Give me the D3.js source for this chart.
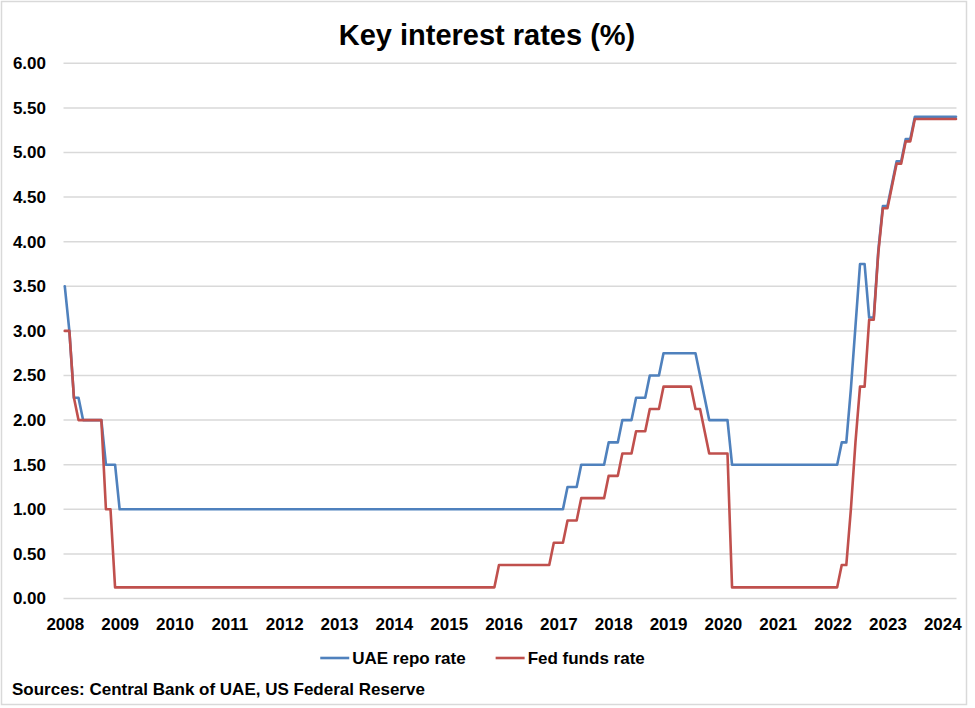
<!DOCTYPE html>
<html>
<head>
<meta charset="utf-8">
<script src="https://cdn.jsdelivr.net/npm/d3@7"></script>
<style>
  body { margin: 0; background: #fff; }
  svg { display: block; }
  text { font-family: 'Liberation Sans', Arial, sans-serif; font-weight: bold; fill: #000; }
</style>
</head>
<body>
<svg id="chart" width="975" height="708"></svg>
<script>
// ---------- DATA ----------
const titleText = "Key interest rates (%)";
const sourceText = "Sources: Central Bank of UAE, US Federal Reserve";
const firstYear = 2008;                 // series start: January 2008, monthly
const yearLabels = ["2008","2009","2010","2011","2012","2013","2014","2015","2016","2017","2018","2019","2020","2021","2022","2023","2024"];
const yTickValues = [0, 0.5, 1, 1.5, 2, 2.5, 3, 3.5, 4, 4.5, 5, 5.5, 6];
const seriesNames = ["UAE repo rate", "Fed funds rate"];
const seriesColors = ["#4F81BD", "#C0504D"];

// UAE repo rate, monthly Jan 2008 – Apr 2024
const uaeRepo = [
  3.50,3.00,2.25,2.25,2.00,2.00,2.00,2.00,2.00,1.50,1.50,1.50, // 2008
  1.00,1.00,1.00,1.00,1.00,1.00,1.00,1.00,1.00,1.00,1.00,1.00, // 2009
  1.00,1.00,1.00,1.00,1.00,1.00,1.00,1.00,1.00,1.00,1.00,1.00, // 2010
  1.00,1.00,1.00,1.00,1.00,1.00,1.00,1.00,1.00,1.00,1.00,1.00, // 2011
  1.00,1.00,1.00,1.00,1.00,1.00,1.00,1.00,1.00,1.00,1.00,1.00, // 2012
  1.00,1.00,1.00,1.00,1.00,1.00,1.00,1.00,1.00,1.00,1.00,1.00, // 2013
  1.00,1.00,1.00,1.00,1.00,1.00,1.00,1.00,1.00,1.00,1.00,1.00, // 2014
  1.00,1.00,1.00,1.00,1.00,1.00,1.00,1.00,1.00,1.00,1.00,1.00, // 2015
  1.00,1.00,1.00,1.00,1.00,1.00,1.00,1.00,1.00,1.00,1.00,1.00, // 2016
  1.00,1.00,1.25,1.25,1.25,1.50,1.50,1.50,1.50,1.50,1.50,1.75, // 2017
  1.75,1.75,2.00,2.00,2.00,2.25,2.25,2.25,2.50,2.50,2.50,2.75, // 2018
  2.75,2.75,2.75,2.75,2.75,2.75,2.75,2.50,2.25,2.00,2.00,2.00, // 2019
  2.00,2.00,1.50,1.50,1.50,1.50,1.50,1.50,1.50,1.50,1.50,1.50, // 2020
  1.50,1.50,1.50,1.50,1.50,1.50,1.50,1.50,1.50,1.50,1.50,1.50, // 2021
  1.50,1.50,1.75,1.75,2.35,3.05,3.75,3.75,3.15,3.15,3.90,4.40, // 2022
  4.40,4.65,4.90,4.90,5.15,5.15,5.40,5.40,5.40,5.40,5.40,5.40, // 2023
  5.40,5.40,5.40,5.40                                          // 2024
];

// Fed funds rate (target midpoint), monthly Jan 2008 – Apr 2024
const fedFunds = [
  3.000,3.000,2.250,2.000,2.000,2.000,2.000,2.000,2.000,1.000,1.000,0.125, // 2008
  0.125,0.125,0.125,0.125,0.125,0.125,0.125,0.125,0.125,0.125,0.125,0.125, // 2009
  0.125,0.125,0.125,0.125,0.125,0.125,0.125,0.125,0.125,0.125,0.125,0.125, // 2010
  0.125,0.125,0.125,0.125,0.125,0.125,0.125,0.125,0.125,0.125,0.125,0.125, // 2011
  0.125,0.125,0.125,0.125,0.125,0.125,0.125,0.125,0.125,0.125,0.125,0.125, // 2012
  0.125,0.125,0.125,0.125,0.125,0.125,0.125,0.125,0.125,0.125,0.125,0.125, // 2013
  0.125,0.125,0.125,0.125,0.125,0.125,0.125,0.125,0.125,0.125,0.125,0.125, // 2014
  0.125,0.125,0.125,0.125,0.125,0.125,0.125,0.125,0.125,0.125,0.125,0.375, // 2015
  0.375,0.375,0.375,0.375,0.375,0.375,0.375,0.375,0.375,0.375,0.375,0.625, // 2016
  0.625,0.625,0.875,0.875,0.875,1.125,1.125,1.125,1.125,1.125,1.125,1.375, // 2017
  1.375,1.375,1.625,1.625,1.625,1.875,1.875,1.875,2.125,2.125,2.125,2.375, // 2018
  2.375,2.375,2.375,2.375,2.375,2.375,2.125,2.125,1.875,1.625,1.625,1.625, // 2019
  1.625,1.625,0.125,0.125,0.125,0.125,0.125,0.125,0.125,0.125,0.125,0.125, // 2020
  0.125,0.125,0.125,0.125,0.125,0.125,0.125,0.125,0.125,0.125,0.125,0.125, // 2021
  0.125,0.125,0.375,0.375,1.000,1.750,2.375,2.375,3.125,3.125,3.875,4.375, // 2022
  4.375,4.625,4.875,4.875,5.125,5.125,5.375,5.375,5.375,5.375,5.375,5.375, // 2023
  5.375,5.375,5.375,5.375                                                  // 2024
];

// ---------- CHART ----------
const svg = d3.select("#chart");
const plot = { left: 63.5, right: 956.5, top: 63.3, bottom: 598.5 };
const dataLeft = 64.8, dataRight = 956;

svg.append("rect")
  .attr("x", 1.5).attr("y", 1.5).attr("width", 965).attr("height", 703)
  .attr("fill", "#fff").attr("stroke", "#d9d9d9").attr("stroke-width", 1.5);

const x = d3.scaleLinear().domain([0, uaeRepo.length - 1]).range([dataLeft, dataRight]);
const y = d3.scaleLinear().domain([0, 6]).range([plot.bottom, plot.top]);

// gridlines
svg.append("g").selectAll("line").data(yTickValues).join("line")
  .attr("x1", plot.left).attr("x2", plot.right)
  .attr("y1", d => y(d)).attr("y2", d => y(d))
  .attr("stroke", "#d9d9d9").attr("stroke-width", 1.5);

// y axis labels
const yAxis = d3.axisLeft(y).tickValues(yTickValues).tickFormat(d3.format(".2f")).tickSize(0).tickPadding(0);
const gy = svg.append("g").attr("transform", "translate(46,0)").call(yAxis);
gy.select(".domain").remove();
gy.selectAll("text").attr("font-size", 17).attr("font-family", null).attr("fill", "#000")
  .style("font-family", "'Liberation Sans', Arial, sans-serif").style("font-weight", "bold");

// x axis labels (one per January)
const xTickIdx = yearLabels.map((_, i) => i * 12);
const xAxis = d3.axisBottom(x).tickValues(xTickIdx).tickFormat((d, i) => yearLabels[i]).tickSize(0).tickPadding(0);
const gx = svg.append("g").attr("transform", "translate(0,617)").call(xAxis);
gx.select(".domain").remove();
gx.selectAll("text").attr("font-size", 17).attr("font-family", null).attr("fill", "#000").attr("dy", "0.75em")
  .style("font-family", "'Liberation Sans', Arial, sans-serif").style("font-weight", "bold");

// lines
const line = d3.line().x((d, i) => x(i)).y(d => y(d)).curve(d3.curveLinear);
const series = [uaeRepo, fedFunds];
svg.append("g").selectAll("path").data(series).join("path")
  .attr("d", d => line(d))
  .attr("fill", "none")
  .attr("stroke", (d, i) => seriesColors[i])
  .attr("stroke-width", 2.6)
  .attr("stroke-linejoin", "round")
  .attr("stroke-linecap", "round");

// title
svg.append("text").attr("x", 487).attr("y", 45).attr("text-anchor", "middle")
  .attr("font-size", 29).text(titleText);

// legend
const legend = svg.append("g");
let cx = 0;
seriesNames.forEach((name, i) => {
  const g = legend.append("g");
  g.append("line").attr("x1", 0).attr("x2", 29).attr("y1", 0).attr("y2", 0)
    .attr("stroke", seriesColors[i]).attr("stroke-width", 2.6);
  const t = g.append("text").attr("x", 32).attr("y", 6).attr("font-size", 17).text(name);
  const w = 32 + t.node().getComputedTextLength();
  g.attr("transform", `translate(${cx},0)`);
  cx += w + 30;
});
const totalW = cx - 30;
legend.attr("transform", `translate(${482.5 - totalW / 2},658)`);

// source
svg.append("text").attr("x", 12).attr("y", 695).attr("font-size", 17).text(sourceText);
</script>
</body>
</html>
